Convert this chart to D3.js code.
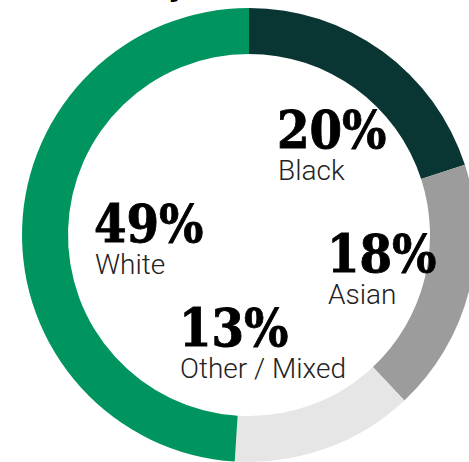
<!DOCTYPE html>
<html>
<head>
<meta charset="utf-8">
<script src="https://cdn.jsdelivr.net/npm/d3@7"></script>
<style>
  html, body { margin: 0; padding: 0; background: #fff; }
  svg { display: block; }
</style>
</head>
<body>
<svg id="chart" width="469" height="462"></svg>
<script>
// Ethnic breakdown, clockwise from 12 o'clock
const categories = ["Black", "Asian", "Other / Mixed", "White"];
const shares = [20, 18, 13, 49];
const colors = ["#093532", "#9c9c9c", "#e6e6e6", "#00955f"];
const labelText = ["20%", "18%", "13%", "49%"];

// label anchor positions (left edge of text block, baseline of the figure)
const labelPos = [
  { x: 277, y: 148 },
  { x: 327, y: 272 },
  { x: 179, y: 346 },
  { x: 94,  y: 242 }
];

const svg = d3.select("#chart");
const cx = 249, cy = 235, rOuter = 227, rInner = 181;

const pie = d3.pie().sort(null).value(d => d)(shares);
const arc = d3.arc().innerRadius(rInner).outerRadius(rOuter);

const g = svg.append("g").attr("transform", `translate(${cx},${cy})`);
g.selectAll("path")
  .data(pie)
  .join("path")
  .attr("d", arc)
  .attr("fill", (d, i) => colors[i]);

// heading above the ring, clipped by the top edge
svg.append("text")
  .attr("x", 186).attr("y", -5)
  .attr("text-anchor", "end")
  .attr("font-family", "Roboto, sans-serif")
  .attr("font-weight", 900)
  .attr("font-size", 34)
  .attr("fill", "#000")
  .text("Ethnicity");

const labels = svg.append("g");
categories.forEach((c, i) => {
  const p = labelPos[i];
  labels.append("text")
    .attr("x", p.x).attr("y", p.y)
    .attr("font-family", "'DejaVu Serif Condensed', 'DejaVu Serif', serif")
    .attr("font-stretch", "condensed")
    .attr("font-weight", 700)
    .attr("font-size", 52)
    .attr("stroke", "#000")
    .attr("stroke-width", 0.8)
    .attr("fill", "#000")
    .text(labelText[i]);
  labels.append("text")
    .attr("x", p.x + 1).attr("y", p.y + 32)
    .attr("font-family", "Roboto, sans-serif")
    .attr("font-weight", 300)
    .attr("font-size", 28)
    .attr("fill", "#222")
    .text(c);
});
</script>
</body>
</html>
